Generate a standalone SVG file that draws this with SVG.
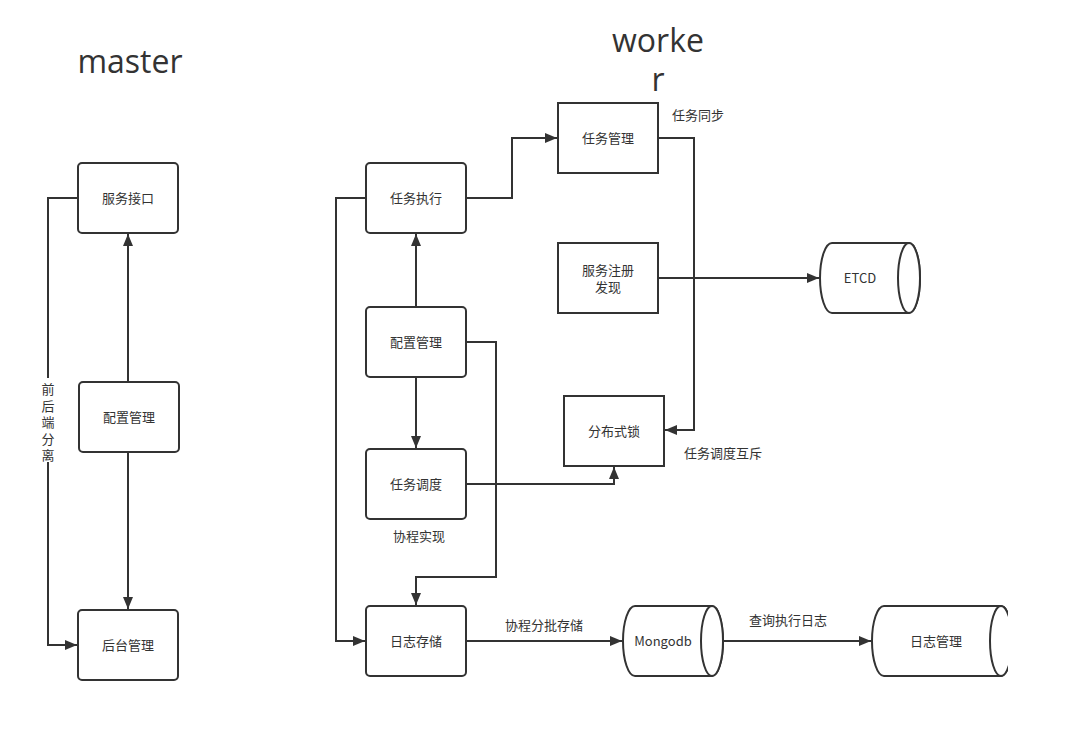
<svg xmlns="http://www.w3.org/2000/svg" width="1069" height="741" viewBox="0 0 1069 741">
<style>
.box{fill:#fff;stroke:#333;stroke-width:2}
.cyl{fill:#fff;stroke:#333;stroke-width:2}
.t{font-family:"Noto Sans CJK SC","Liberation Sans",sans-serif;font-size:13px;fill:#333;text-anchor:middle;dominant-baseline:central}
.vt{font-family:"Noto Sans CJK SC","Liberation Sans",sans-serif;font-size:13px;fill:#333;writing-mode:tb;letter-spacing:3.5px}
.title{font-family:"Open Sans","Liberation Sans",sans-serif;font-size:32px;fill:#333;text-anchor:middle}
.ln{fill:none;stroke:#333;stroke-width:2}
</style>
<defs>
<marker id="ah" viewBox="0 0 12 10" refX="12" refY="5" markerWidth="12" markerHeight="10" markerUnits="userSpaceOnUse" orient="auto">
<path d="M0,0 L12,5 L0,10 Z" fill="#333"/>
</marker>
<clipPath id="clipR"><rect x="0" y="0" width="1008" height="741"/></clipPath>
</defs>
<rect width="1069" height="741" fill="#fff"/>
<text class="title" x="130" y="73">master</text>
<text class="title" x="658" y="52">worke</text>
<text class="title" x="658" y="91">r</text>

<g id="connectors">
<path class="ln" d="M128,382 L128,234" marker-end="url(#ah)"/>
<path class="ln" d="M128,452 L128,609" marker-end="url(#ah)"/>
<path class="ln" d="M78,198 L48,198 L48,645 L77,645" marker-end="url(#ah)"/>
<rect x="40" y="378" width="16" height="84" fill="#fff"/>
<path class="ln" d="M466,198 L512,198 L512,138 L557,138" marker-end="url(#ah)"/>
<path class="ln" d="M658,138 L694,138 L694,430 L665,430" marker-end="url(#ah)"/>
<path class="ln" d="M658,278 L819,278" marker-end="url(#ah)"/>
<path class="ln" d="M416,307 L416,234" marker-end="url(#ah)"/>
<path class="ln" d="M416,377 L416,448" marker-end="url(#ah)"/>
<path class="ln" d="M466,342 L496,342 L496,577 L416,577 L416,605" marker-end="url(#ah)"/>
<path class="ln" d="M466,484 L614,484 L614,467" marker-end="url(#ah)"/>
<path class="ln" d="M366,198 L336,198 L336,641 L365,641" marker-end="url(#ah)"/>
<path class="ln" d="M466,641 L622,641" marker-end="url(#ah)"/>
<path class="ln" d="M723,641 L871,641" marker-end="url(#ah)"/>
</g>

<text class="vt" x="48" y="383">前后端分离</text>
<text class="t" x="698" y="114">任务同步</text>
<text class="t" x="723" y="452">任务调度互斥</text>
<text class="t" x="419" y="535">协程实现</text>
<text class="t" x="544" y="624">协程分批存储</text>
<text class="t" x="788" y="619">查询执行日志</text>

<g id="m-fwjk"><rect class="box" x="78" y="163" width="100" height="70" rx="4"/><text class="t" x="128" y="197">服务接口</text></g>
<g id="m-pzgl"><rect class="box" x="79" y="382" width="100" height="70" rx="4"/><text class="t" x="129" y="416">配置管理</text></g>
<g id="m-htgl"><rect class="box" x="78" y="610" width="100" height="70" rx="4"/><text class="t" x="128" y="644">后台管理</text></g>

<g id="w-rwzx"><rect class="box" x="366" y="163" width="100" height="70" rx="4"/><text class="t" x="416" y="197">任务执行</text></g>
<g id="w-rwgl"><rect class="box" x="558" y="103" width="100" height="70"/><text class="t" x="608" y="137">任务管理</text></g>
<g id="w-fwzc"><rect class="box" x="558" y="243" width="100" height="70"/><text class="t" x="608" y="269">服务注册</text><text class="t" x="608" y="286">发现</text></g>
<g id="w-pzgl"><rect class="box" x="366" y="307" width="100" height="70" rx="4"/><text class="t" x="416" y="341">配置管理</text></g>
<g id="w-fbss"><rect class="box" x="564" y="396" width="100" height="70"/><text class="t" x="614" y="430">分布式锁</text></g>
<g id="w-rwdd"><rect class="box" x="366" y="449" width="100" height="70" rx="4"/><text class="t" x="416" y="483">任务调度</text></g>
<g id="w-rzcc"><rect class="box" x="366" y="606" width="100" height="70" rx="4"/><text class="t" x="416" y="640">日志存储</text></g>

<g id="etcd">
<path class="cyl" d="M832,243 L909,243 A11,35 0 0 1 909,313 L832,313 A12,35 0 0 1 832,243 Z"/>
<ellipse class="cyl" cx="909" cy="278" rx="11" ry="35"/>
<text class="t" x="860" y="277">ETCD</text>
</g>
<g id="mongodb">
<path class="cyl" d="M635,606 L712,606 A11,35 0 0 1 712,676 L635,676 A12,35 0 0 1 635,606 Z"/>
<ellipse class="cyl" cx="712" cy="641" rx="11" ry="35"/>
<text class="t" x="663" y="640">Mongodb</text>
</g>
<g id="rzgl" clip-path="url(#clipR)">
<path class="cyl" d="M884,606 L1001,606 A11,35 0 0 1 1001,676 L884,676 A12,35 0 0 1 884,606 Z"/>
<ellipse class="cyl" cx="1001" cy="641" rx="11" ry="35"/>
<text class="t" x="936" y="640">日志管理</text>
</g>
</svg>
